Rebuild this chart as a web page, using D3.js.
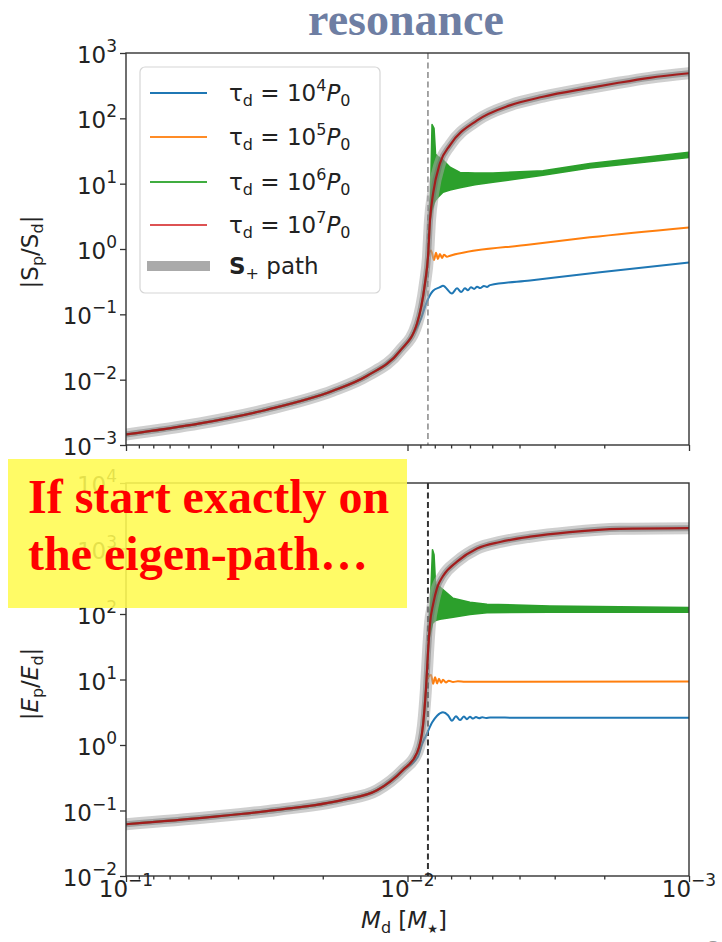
<!DOCTYPE html>
<html><head><meta charset="utf-8">
<script src="https://cdn.jsdelivr.net/npm/d3@7"></script>
<style>body{margin:0;background:#fff}svg{display:block}</style>
</head><body>
<svg id="c" width="722" height="942"></svg>
<script>
// ---------------- DATA ----------------
const xMajor = [0.1, 0.01, 0.001];
const xMajorExp = ["−1", "−2", "−3"];
const xMinor = [0.09,0.08,0.07,0.06,0.05,0.04,0.03,0.02,0.009,0.008,0.007,0.006,0.005,0.004,0.003,0.002];
const yTicksTop = [1e-3,1e-2,1e-1,1e0,1e1,1e2,1e3];
const yExpTop = ["−3","−2","−1","0","1","2","3"];
const yTicksBot = [1e-2,1e-1,1e0,1e1,1e2,1e3,1e4];
const yExpBot = ["−2","−1","0","1","2","3","4"];
const resonanceM = 0.00846;

const legendLabels = ["4","5","6","7"];

// Top panel |Sp/Sd|
const mPathTop = [0.1,0.0546,0.0316,0.0184,0.0139,0.01064,0.00925,0.00867,0.00846,0.00832,0.00811,0.00767,0.00706,0.00566,0.00433,0.0033,0.0023,0.0018,0.00138,0.001];
const sPlusTop = [1.45e-3,2.14e-3,3.47e-3,6.76e-3,0.0115,0.0275,0.0724,0.295,0.74,2.75,7.08,20.4,38.9,93,158,214,288,347,417,490];
const redTop = sPlusTop;

const mBlueTop = [0.1,0.0546,0.0316,0.0184,0.0139,0.01064,0.0094,0.00895,0.00852,0.00811,0.00767,0.00748,0.00695,0.00667,0.00645,0.00625,0.0061,0.00595,0.0058,0.00566,0.00552,0.00535,0.00522,0.00509,0.00367,0.00207,0.001];
const vBlueTop = [1.45e-3,2.14e-3,3.47e-3,6.76e-3,0.0115,0.0275,0.056,0.085,0.16,0.23,0.26,0.275,0.209,0.25,0.219,0.25,0.234,0.26,0.245,0.265,0.252,0.272,0.262,0.28,0.33,0.44,0.62];

const mOrangeTop = [0.1,0.0546,0.0316,0.0184,0.0139,0.01064,0.00925,0.00867,0.00846,0.00825,0.00805,0.00792,0.0078,0.00767,0.00754,0.00742,0.00724,0.00706,0.00367,0.00225,0.001];
const vOrangeTop = [1.45e-3,2.14e-3,3.47e-3,6.76e-3,0.0115,0.0275,0.0724,0.295,0.74,0.95,0.68,0.88,0.70,0.84,0.73,0.82,0.76,0.79,1.17,1.51,2.14];

const mGreenTop = [0.1,0.0546,0.0316,0.0184,0.0139,0.01064,0.00925,0.00867,0.00846,0.00832];
const vGreenTop = [1.45e-3,2.14e-3,3.47e-3,6.76e-3,0.0115,0.0275,0.0724,0.295,0.74,2.75];
const mGreenBandTop = [0.00832,0.00818,0.00805,0.00795,0.00779,0.00748,0.00706,0.00651,0.00576,0.00497,0.0033,0.00225,0.001];
const greenUpTop = [2.75,80,70,28,26,23,17.8,14.8,14.5,14.5,15.8,20.4,30.2];
const greenLoTop = [2.75,4.0,5.0,5.6,6.2,7.4,8.0,8.7,9.6,10.5,13.5,17.4,25.1];

// Bottom panel |Ep/Ed|
const mPathBot = [0.1,0.0504,0.0291,0.01694,0.01283,0.01037,0.00925,0.00881,0.0086,0.00846,0.00832,0.00811,0.00785,0.00748,0.00667,0.00566,0.00469,0.00367,0.00265,0.00176,0.001];
const sPlusBot = [0.0617,0.0794,0.102,0.145,0.204,0.417,0.759,2.0,7.08,25.1,70.8,141,251,380,631,1000,1259,1514,1778,1995,2042];
const redBot = sPlusBot;

const mBlueBot = [0.1,0.0504,0.0291,0.01694,0.01283,0.01037,0.00918,0.00889,0.00852,0.00818,0.00785,0.00748,0.00718,0.00695,0.00673,0.00651,0.0063,0.00615,0.006,0.00585,0.00571,0.00557,0.00543,0.00526,0.00509,0.00398,0.001];
const vBlueBot = [0.0617,0.0794,0.102,0.145,0.204,0.417,0.66,1.0,1.51,2.2,2.8,3.16,2.85,2.34,2.75,2.4,2.72,2.48,2.7,2.53,2.68,2.56,2.65,2.58,2.63,2.61,2.61];

const mOrangeBot = [0.1,0.0504,0.0291,0.01694,0.01283,0.01037,0.00925,0.00881,0.0086,0.00852,0.00825,0.00811,0.00798,0.00785,0.00773,0.0076,0.00748,0.0073,0.00713,0.00689,0.00662,0.00625,0.001];
const vOrangeBot = [0.0617,0.0794,0.102,0.145,0.204,0.417,0.759,2.0,7.08,10,11.7,8.6,10.8,8.7,10.3,8.9,9.9,9.0,9.6,9.15,9.4,9.25,9.3];

const mGreenBot = [0.1,0.0504,0.0291,0.01694,0.01283,0.01037,0.00925,0.00881,0.0086,0.00846,0.00839];
const vGreenBot = [0.0617,0.0794,0.102,0.145,0.204,0.417,0.759,2.0,7.08,25.1,42];
const mGreenBandBot = [0.00839,0.00815,0.00805,0.00795,0.00767,0.00689,0.0060,0.00522,0.00312,0.001];
const greenUpBot = [42,955,800,280,257,174,151,141,132,126];
const greenLoBot = [42,72,76,80,83,89,98,105,107,107];

// ---------------- DRAW ----------------
const FONT = "DejaVu Sans";
const svg = d3.select("#c");
const C = {blue:"#1f77b4", orange:"#ff7f0e", green:"#2ca02c", red:"#a21d1d", axis:"#333"};

const x = d3.scaleLog().domain([0.1, 0.001]).range([126, 689]);
const panels = [
  {y: d3.scaleLog().domain([1e-3,1e3]).range([445,53]), ticks: yTicksTop, exps: yExpTop,
   path:[mPathTop,sPlusTop], red:[mPathTop,redTop], blue:[mBlueTop,vBlueTop], orange:[mOrangeTop,vOrangeTop],
   green:[mGreenTop,vGreenTop], band:[mGreenBandTop,greenLoTop,greenUpTop], dash:{c:"#888",w:1.5}, xlabels:false},
  {y: d3.scaleLog().domain([1e-2,1e4]).range([876,483]), ticks: yTicksBot, exps: yExpBot,
   path:[mPathBot,sPlusBot], red:[mPathBot,redBot], blue:[mBlueBot,vBlueBot], orange:[mOrangeBot,vOrangeBot],
   green:[mGreenBot,vGreenBot], band:[mGreenBandBot,greenLoBot,greenUpBot], dash:{c:"#333",w:2}, xlabels:true}
];

function rich(sel, parts, base) {
  let prev = 0;
  parts.forEach(p => {
    const o = p[1] || {};
    const s = o.shift || 0;
    sel.append("tspan").text(p[0]).attr("dy", s - prev)
      .attr("font-size", o.size || base)
      .attr("font-style", o.italic ? "italic" : null)
      .attr("font-weight", o.bold ? "bold" : null);
    prev = s;
  });
}

const zip = (ms, vs) => ms.map((m,i)=>[m, vs[i]]);

panels.forEach((P, pi) => {
  const y = P.y;
  const [yb, yt] = y.range();
  const [xl, xr] = x.range();
  const g = svg.append("g");
  const clipId = "clip"+pi;
  svg.append("clipPath").attr("id", clipId).append("rect")
    .attr("x", xl).attr("y", yt).attr("width", xr-xl).attr("height", yb-yt);
  const plot = g.append("g").attr("clip-path", `url(#${clipId})`);
  const line = d3.line().x(d=>x(d[0])).y(d=>y(d[1])).curve(d3.curveMonotoneX);

  // dashed resonance line
  plot.append("line").attr("x1", x(resonanceM)).attr("x2", x(resonanceM))
    .attr("y1", yt).attr("y2", yb).attr("stroke", P.dash.c).attr("stroke-width", P.dash.w)
    .attr("stroke-dasharray", "6,3.5");

  plot.append("path").datum(zip(...P.blue)).attr("d", line)
    .attr("fill","none").attr("stroke", C.blue).attr("stroke-width", 2);
  plot.append("path").datum(zip(...P.orange)).attr("d", line)
    .attr("fill","none").attr("stroke", C.orange).attr("stroke-width", 2);
  plot.append("path").datum(zip(...P.green)).attr("d", line)
    .attr("fill","none").attr("stroke", C.green).attr("stroke-width", 2);
  const bandData = P.band[0].map((m,i)=>[m, P.band[1][i], P.band[2][i]]);
  const area = d3.area().x(d=>x(d[0])).y0(d=>y(d[1])).y1(d=>y(d[2])).curve(d3.curveLinear);
  plot.append("path").datum(bandData).attr("d", area)
    .attr("fill", C.green).attr("stroke", C.green).attr("stroke-width", 1.6).attr("stroke-linejoin","round");

  // S+ path (grey halo) and red curve
  const pd = zip(...P.path);
  plot.append("path").datum(pd).attr("d", line).attr("fill","none")
    .attr("stroke","#a8a8a8").attr("stroke-width", 12).attr("stroke-opacity", 0.55).attr("stroke-linecap","round");
  plot.append("path").datum(pd).attr("d", line).attr("fill","none")
    .attr("stroke","#666").attr("stroke-width", 6).attr("stroke-opacity", 0.45);
  plot.append("path").datum(zip(...P.red)).attr("d", line).attr("fill","none")
    .attr("stroke", C.red).attr("stroke-width", 2.2);

  // axes ticks
  const ya = g.append("g").attr("transform", `translate(${xl},0)`)
    .call(d3.axisLeft(y).tickValues(P.ticks).tickSize(6).tickFormat(""));
  const xa = g.append("g").attr("transform", `translate(0,${yb})`)
    .call(d3.axisBottom(x).tickValues(xMajor).tickSize(6).tickFormat(""));
  const xm = g.append("g").attr("transform", `translate(0,${yb})`)
    .call(d3.axisBottom(x).tickValues(xMinor).tickSize(3.5).tickFormat(""));
  [ya, xa, xm].forEach(a => { a.select(".domain").remove(); a.selectAll("line").attr("stroke", C.axis).attr("stroke-width", 1.3); });

  // frame
  g.append("rect").attr("x", xl).attr("y", yt).attr("width", xr-xl).attr("height", yb-yt)
    .attr("fill","none").attr("stroke", C.axis).attr("stroke-width", 1.4);

  // y tick labels
  P.ticks.forEach((t,i) => {
    const tx = g.append("text").attr("x", xl-9).attr("y", y(t)+10)
      .attr("text-anchor","end").attr("font-family", FONT).attr("fill","#222");
    rich(tx, [["10"], [P.exps[i], {size:17, shift:-11}]], 23);
  });
  if (P.xlabels) {
    xMajor.forEach((t,i) => {
      const tx = g.append("text").attr("x", x(t)).attr("y", yb+21)
        .attr("text-anchor","middle").attr("font-family", FONT).attr("fill","#222");
      rich(tx, [["10"], [xMajorExp[i], {size:17, shift:-11}]], 23);
    });
  }
});

// axis labels
const yl1 = svg.append("text").attr("transform","translate(38,252) rotate(-90)")
  .attr("text-anchor","middle").attr("font-family", FONT).attr("fill","#222");
rich(yl1, [["|S"], ["p",{size:16, shift:5}], ["/S"], ["d",{size:16, shift:5}], ["|"]], 23);
const yl2 = svg.append("text").attr("transform","translate(38,684) rotate(-90)")
  .attr("text-anchor","middle").attr("font-family", FONT).attr("fill","#222");
rich(yl2, [["|"], ["E",{italic:true}], ["p",{size:16, shift:5}], ["/"], ["E",{italic:true}], ["d",{size:16, shift:5}], ["|"]], 23);
const xl = svg.append("text").attr("x", 404).attr("y", 928)
  .attr("text-anchor","middle").attr("font-family", FONT).attr("fill","#222");
rich(xl, [["M",{italic:true}], ["d",{size:16, shift:5}], [" ["], ["M",{italic:true}], ["★",{size:12, shift:5}], ["]"]], 23);

// legend
const lg = svg.append("g");
lg.append("rect").attr("x",140).attr("y",67).attr("width",240).attr("height",226).attr("rx",5)
  .attr("fill","#fff").attr("fill-opacity",0.85).attr("stroke","#d6d6d6").attr("stroke-width",1.2);
const legColors = ["#1f77b4","#ff8c26","#40ad40","#dd5253"];
const legY = [93, 137, 182, 225];
legendLabels.forEach((e,i) => {
  lg.append("line").attr("x1",150).attr("x2",207).attr("y1",legY[i]).attr("y2",legY[i])
    .attr("stroke", legColors[i]).attr("stroke-width",2);
  const t = lg.append("text").attr("x",229).attr("y",legY[i]+8).attr("font-family",FONT).attr("fill","#222");
  rich(t, [["τ"], ["d",{size:16, shift:5}], [" = 10"], [e,{size:16, shift:-10}], ["P",{italic:true}], ["0",{size:16, shift:5}]], 23);
});
lg.append("line").attr("x1",147).attr("x2",210).attr("y1",266).attr("y2",266)
  .attr("stroke","#aaa").attr("stroke-width",10);
const tl = lg.append("text").attr("x",229).attr("y",274).attr("font-family",FONT).attr("fill","#222");
rich(tl, [["S",{bold:true}], ["+",{size:16, shift:5}], [" path"]], 23);

// title
svg.append("text").attr("x",406).attr("y",35).attr("text-anchor","middle")
  .attr("font-family","Liberation Serif").attr("font-weight","bold").attr("font-size",46)
  .attr("fill","#6e7ea3").text("resonance");

// yellow annotation box
svg.append("rect").attr("x",8).attr("y",459).attr("width",399).attr("height",149)
  .attr("fill","rgb(255,251,81)").attr("fill-opacity",0.88);
[["If start exactly on", 513], ["the eigen-path…", 570]].forEach(d => {
  svg.append("text").attr("x",28).attr("y",d[1]).attr("font-family","Liberation Serif")
    .attr("font-weight","bold").attr("font-size",48).attr("fill","#ff0000").text(d[0]);
});
// slide number fragment
svg.append("text").attr("x",706).attr("y",957).attr("font-family",FONT).attr("font-size",22).attr("fill","#999").text("8");
</script></body></html>
